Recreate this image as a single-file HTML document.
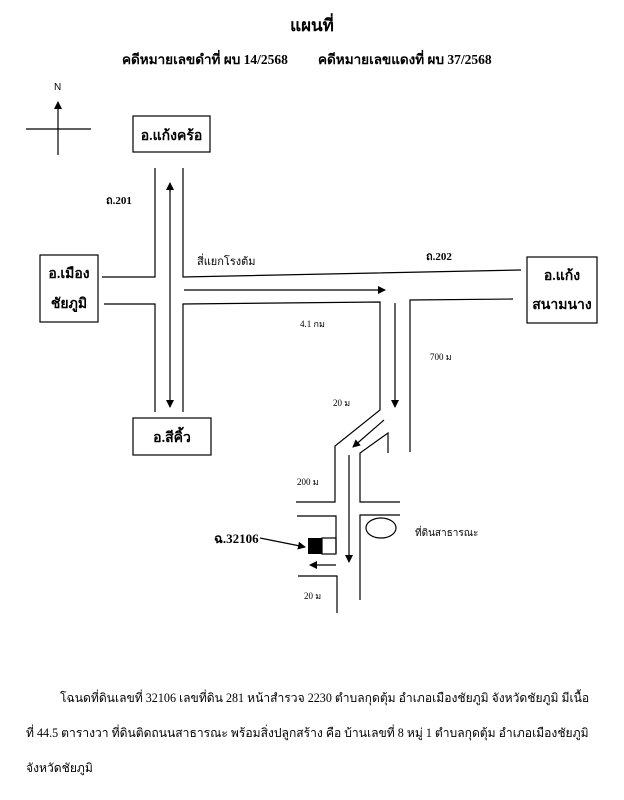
<!DOCTYPE html>
<html><head><meta charset="utf-8"><style>
body{margin:0;background:#fff;width:624px;height:800px;overflow:hidden;position:relative;font-family:"Liberation Serif",serif;color:#000}
.t{position:absolute;white-space:nowrap}
.b{font-weight:bold}
</style></head><body>
<svg width="624" height="800" style="position:absolute;left:0;top:0">
<defs><marker id="a" markerWidth="8" markerHeight="8" refX="7" refY="4" orient="auto" markerUnits="userSpaceOnUse"><path d="M0,0L8,4L0,8z" fill="#000"/></marker></defs>
<g stroke="#000" stroke-width="1.2" fill="none">
<line x1="58" y1="155" x2="58" y2="102" marker-end="url(#a)"/>
<line x1="26" y1="129" x2="91" y2="129"/>
<rect x="133" y="116" width="77" height="36"/>
<rect x="40" y="255" width="58" height="67"/>
<rect x="527" y="257" width="70" height="66"/>
<rect x="133" y="418" width="78" height="37"/>
<polyline points="155,168 155,277 102,277"/>
<polyline points="183,168 183,277 521,270"/>
<polyline points="104,304 155,304 155,412"/>
<polyline points="183,412 183,304 380,302 380,410 335,446 335,502 296,502"/>
<polyline points="513,299 410,300 410,452"/>
<polyline points="388,453 388,433 360,453 360,502 400,502"/>
<polyline points="400,515 360,515 360,600"/>
<polyline points="297,516 336,516 336,553"/>
<polyline points="298,576 337,576 337,613"/>
<line x1="170" y1="192" x2="170" y2="183" marker-end="url(#a)"/>
<line x1="170" y1="190" x2="170" y2="407" marker-end="url(#a)"/>
<line x1="184" y1="290" x2="385" y2="290" marker-end="url(#a)"/>
<line x1="395" y1="303" x2="395" y2="407" marker-end="url(#a)"/>
<line x1="384" y1="420" x2="353" y2="447" marker-end="url(#a)"/>
<line x1="349" y1="455" x2="349" y2="562" marker-end="url(#a)"/>
<line x1="336" y1="565" x2="310" y2="565" marker-end="url(#a)"/>
<line x1="260" y1="538" x2="305" y2="547" marker-end="url(#a)"/>
<ellipse cx="381" cy="528" rx="15" ry="10"/>
<rect x="322" y="538" width="14" height="16"/>
</g>
<rect x="308" y="538" width="14" height="16" fill="#000"/>
</svg>
<div class="t b" style="left:0;width:624px;text-align:center;top:12px;font-size:17px">แผนที่</div>
<div class="t b" style="left:122px;top:48px;font-size:13.5px">คดีหมายเลขดำที่ ผบ 14/2568</div>
<div class="t b" style="left:318px;top:48px;font-size:13.5px">คดีหมายเลขแดงที่ ผบ 37/2568</div>
<div class="t" style="left:54px;top:82px;font-size:10px;font-family:'Liberation Sans',sans-serif">N</div>
<div class="t b" style="left:133px;top:125px;width:77px;text-align:center;font-size:14px">อ.แก้งคร้อ</div>
<div class="t b" style="left:40px;top:263px;width:58px;text-align:center;font-size:14px">อ.เมือง</div>
<div class="t b" style="left:40px;top:293px;width:58px;text-align:center;font-size:14px">ชัยภูมิ</div>
<div class="t b" style="left:527px;top:265px;width:70px;text-align:center;font-size:14px">อ.แก้ง</div>
<div class="t b" style="left:527px;top:294px;width:70px;text-align:center;font-size:14px">สนามนาง</div>
<div class="t b" style="left:133px;top:427px;width:78px;text-align:center;font-size:14px">อ.สีคิ้ว</div>
<div class="t b" style="left:106px;top:191px;font-size:11px">ถ.201</div>
<div class="t b" style="left:426px;top:247px;font-size:11px">ถ.202</div>
<div class="t" style="left:197px;top:252px;font-size:11px">สี่แยกโรงต้ม</div>
<div class="t" style="left:300px;top:317px;font-size:9px">4.1 กม</div>
<div class="t" style="left:430px;top:350px;font-size:9px">700 ม</div>
<div class="t" style="left:333px;top:396px;font-size:9px">20 ม</div>
<div class="t" style="left:297px;top:475px;font-size:9px">200 ม</div>
<div class="t" style="left:304px;top:589px;font-size:9px">20 ม</div>
<div class="t" style="left:415px;top:526px;font-size:10px">ที่ดินสาธารณะ</div>
<div class="t b" style="left:214px;top:528px;font-size:13px">ฉ.32106</div>
<div class="t" style="left:60px;top:689px;font-size:12.1px">โฉนดที่ดินเลขที่ 32106 เลขที่ดิน 281 หน้าสำรวจ 2230 ตำบลกุดตุ้ม อำเภอเมืองชัยภูมิ จังหวัดชัยภูมิ มีเนื้อ</div>
<div class="t" style="left:26px;top:724px;font-size:12.1px">ที่ 44.5 ตารางวา ที่ดินติดถนนสาธารณะ พร้อมสิ่งปลูกสร้าง คือ บ้านเลขที่ 8 หมู่ 1 ตำบลกุดตุ้ม อำเภอเมืองชัยภูมิ</div>
<div class="t" style="left:26px;top:759px;font-size:12.1px">จังหวัดชัยภูมิ</div>
</body></html>
